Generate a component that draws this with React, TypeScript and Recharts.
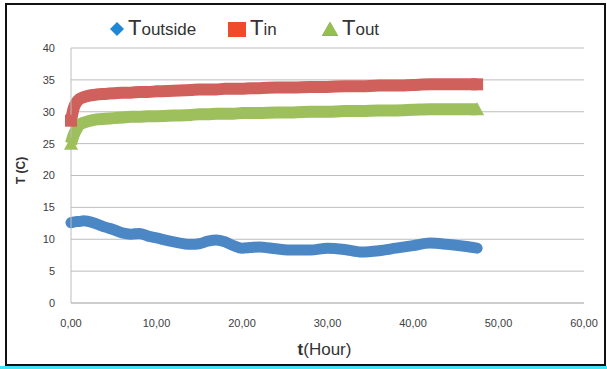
import { CartesianGrid, Label, Legend, Line, LineChart, XAxis, YAxis } from "recharts";

// Temperature over time: outside air, inlet and outlet.

const HOURS = [
  0, 0.3, 0.7, 1, 1.5, 2, 3, 4, 5, 6, 7, 8, 9, 10, 12, 14, 15, 16, 17, 18, 19, 20, 21, 22, 24,
  26, 28, 30, 32, 34, 36, 38, 40, 42, 44, 46, 47.5,
];
const T_OUTSIDE = [
  12.6, 12.7, 12.8, 12.8, 12.9, 12.8, 12.4, 11.9, 11.5, 11.0, 10.8, 10.9, 10.5, 10.2, 9.6, 9.2,
  9.3, 9.7, 9.9, 9.6, 9.0, 8.6, 8.7, 8.8, 8.5, 8.3, 8.3, 8.6, 8.4, 8.0, 8.2, 8.6, 9.0, 9.4, 9.2,
  8.9, 8.6,
];
const T_IN = [
  28.6, 30.5, 31.6, 32.0, 32.3, 32.5, 32.7, 32.8, 32.9, 33.0, 33.0, 33.1, 33.1, 33.2, 33.3, 33.4,
  33.5, 33.5, 33.5, 33.6, 33.6, 33.6, 33.7, 33.7, 33.8, 33.8, 33.9, 33.9, 34.0, 34.0, 34.1, 34.1,
  34.2, 34.3, 34.3, 34.3, 34.3,
];
const T_OUT = [
  25.0, 26.3, 27.4, 28.0, 28.3, 28.5, 28.8, 28.9, 29.0, 29.1, 29.2, 29.2, 29.3, 29.3, 29.4, 29.5,
  29.6, 29.6, 29.7, 29.7, 29.7, 29.8, 29.8, 29.8, 29.9, 29.9, 30.0, 30.0, 30.1, 30.1, 30.2, 30.2,
  30.3, 30.4, 30.4, 30.4, 30.4,
];
const X_TICKS = [0, 10, 20, 30, 40, 50, 60];
const Y_TICKS = [0, 5, 10, 15, 20, 25, 30, 35, 40];

const data = HOURS.map((t, i) => ({
  t,
  outside: T_OUTSIDE[i],
  tin: T_IN[i],
  tout: T_OUT[i],
}));

const BLUE = "#4b86c5";
const RED = "#d0605b";
const GREEN = "#9dbf5c";
const FONT = "'Liberation Sans', Arial, sans-serif";

function fmtComma(v: number): string {
  return v.toFixed(2).replace(".", ",");
}

// markers only at the two ends of a band, the way the dense scatter ends look
function endDot(kind: "square" | "triangle", color: string) {
  const last = HOURS.length - 1;
  return (props: any) => {
    const { cx, cy, index } = props;
    if (cx == null || cy == null || (index !== 0 && index !== last)) {
      return <g key={`d${index}`} />;
    }
    if (kind === "square") {
      return <rect key={`d${index}`} x={cx - 6} y={cy - 6} width={12} height={12} fill={color} />;
    }
    return (
      <path
        key={`d${index}`}
        d={`M${cx},${cy - 7} L${cx + 7},${cy + 6} L${cx - 7},${cy + 6} Z`}
        fill={color}
      />
    );
  };
}

function LegendBox() {
  const big = { fontSize: 22 };
  const small = { fontSize: 17 };
  const item = (left: number, icon: JSX.Element, sub: string) => (
    <div style={{ position: "absolute", left, top: 0, display: "flex", alignItems: "center" }}>
      {icon}
      <span style={{ color: "#333", lineHeight: "26px", marginLeft: 4 }}>
        <span style={big}>T</span>
        <span style={small}>{sub}</span>
      </span>
    </div>
  );
  return (
    <div style={{ position: "relative", width: 400, height: 28, fontFamily: FONT }}>
      {item(
        0,
        <svg width={14} height={14}>
          <path d="M7,0 L14,7 L7,14 L0,7 Z" fill="#1f88d6" />
        </svg>,
        "outside",
      )}
      {item(
        118,
        <svg width={18} height={15}>
          <rect x={0} y={0} width={18} height={15} fill="#ef4b2a" />
        </svg>,
        "in",
      )}
      {item(
        212,
        <svg width={16} height={14}>
          <path d="M8,0 L16,14 L0,14 Z" fill="#95c050" stroke="#7fa843" strokeWidth={0.6} />
        </svg>,
        "out",
      )}
    </div>
  );
}

export default function App() {
  return (
    <div style={{ position: "absolute", left: 0, top: 0, width: 607, height: 369, background: "#fff" }}>
      <div
        style={{
          position: "absolute",
          left: 5,
          top: 3,
          width: 601,
          height: 363,
          border: "2px solid #111",
          boxSizing: "border-box",
        }}
      />
      <div style={{ position: "absolute", left: 0, top: 366, width: 607, height: 3, background: "#3ee6f5" }} />
      <div style={{ position: "absolute", left: 0, top: 0 }}>
        <LineChart width={607} height={369} data={data} margin={{ top: 20, right: 23, bottom: 36, left: 31 }}>
          <CartesianGrid vertical={false} stroke="#bdbdbd" />
          <XAxis
            dataKey="t"
            type="number"
            domain={[0, 60]}
            ticks={X_TICKS}
            tickFormatter={fmtComma}
            stroke="#bdbdbd"
            tickLine={false}
            tickMargin={10}
            height={30}
            tick={{ fill: "#404040", fontSize: 11, fontFamily: FONT }}
          >
            <Label
              content={({ viewBox }: any) => (
                <text
                  x={viewBox.x + viewBox.width / 2 - 3}
                  y={viewBox.y + 52}
                  textAnchor="middle"
                  fill="#333"
                  fontFamily={FONT}
                  fontSize={17}
                >
                  <tspan fontWeight="bold">t</tspan>
                  <tspan>(Hour)</tspan>
                </text>
              )}
            />
          </XAxis>
          <YAxis
            type="number"
            domain={[0, 40]}
            ticks={Y_TICKS}
            width={40}
            stroke="#bdbdbd"
            tickLine={false}
            tickMargin={10}
            tick={{ fill: "#404040", fontSize: 11, fontFamily: FONT }}
          >
            <Label
              content={({ viewBox }: any) => {
                const cx = 25;
                const cy = viewBox.y + viewBox.height / 2 - 5;
                return (
                  <text
                    x={cx}
                    y={cy}
                    transform={`rotate(-90 ${cx} ${cy})`}
                    textAnchor="middle"
                    fill="#333"
                    fontFamily={FONT}
                    fontSize={12}
                    fontWeight="bold"
                  >
                    T (C)
                  </text>
                );
              }}
            />
          </YAxis>
          <Legend
            verticalAlign="top"
            content={() => <LegendBox />}
            wrapperStyle={{ top: 15, left: 110, width: 400 }}
          />
          <Line
            type="monotone"
            dataKey="outside"
            name="Toutside"
            stroke={BLUE}
            strokeWidth={11}
            strokeLinecap="round"
            strokeLinejoin="round"
            dot={false}
            isAnimationActive={false}
          />
          <Line
            type="monotone"
            dataKey="tin"
            name="Tin"
            stroke={RED}
            strokeWidth={12}
            strokeLinejoin="round"
            dot={endDot("square", RED)}
            isAnimationActive={false}
          />
          <Line
            type="monotone"
            dataKey="tout"
            name="Tout"
            stroke={GREEN}
            strokeWidth={12}
            strokeLinejoin="round"
            dot={endDot("triangle", GREEN)}
            isAnimationActive={false}
          />
        </LineChart>
      </div>
    </div>
  );
}
